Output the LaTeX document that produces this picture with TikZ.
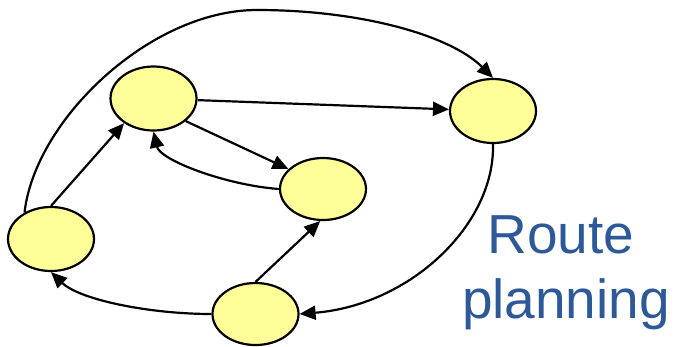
\documentclass[tikz,border=0pt]{standalone}
\usepackage{fontspec}
\setmainfont{Liberation Sans}
\usetikzlibrary{arrows.meta,shapes.geometric}
\definecolor{nodefill}{RGB}{255,255,153}
\definecolor{textblue}{RGB}{46,89,153}
\tikzset{
  place/.style={ellipse,draw=black,fill=nodefill,line width=2.2pt,minimum width=86pt,minimum height=64pt,inner sep=0pt},
  edge/.style={line width=2.2pt,-{Triangle[length=16pt,width=14pt]}},
  bigtext/.style={text=textblue,font=\fontsize{55}{66}\selectfont,anchor=base,inner sep=0pt}
}
\begin{document}
\begin{tikzpicture}[x=1pt,y=-1pt]
\useasboundingbox (0,0) rectangle (679,346);
\node[place] (A) at (153.5,98.5) {};
\node[place] (B) at (493,111) {};
\node[place,minimum height=62pt] (C) at (323,189) {};
\node[place] (D) at (51,239) {};
\node[place,minimum height=62pt] (E) at (255.5,314) {};
\coordinate (top) at (257,10);
\draw[edge] (A) -- (B);
\draw[edge] (A.-35) -- (C.150);
\draw[edge] (C.west) .. controls (225,185) and (160,160) .. (A.south);
\draw[edge] (D.north) -- (A.220);
\draw[edge] (E.north) -- (C.265);
\draw[edge] (E.west) .. controls (150,314) and (80,300) .. (D.south);
\draw[edge] (B.south) .. controls (495,225) and (410,305) .. (E.east);
\draw[edge] (D.135) .. controls (35,120) and (150,10) .. (top) .. controls (360,10) and (450,35) .. (B.north);
\node[bigtext] (t1) at (561,253) {Route};
\node[bigtext] (t2) at (566,318) {planning};
\end{tikzpicture}
\end{document}
